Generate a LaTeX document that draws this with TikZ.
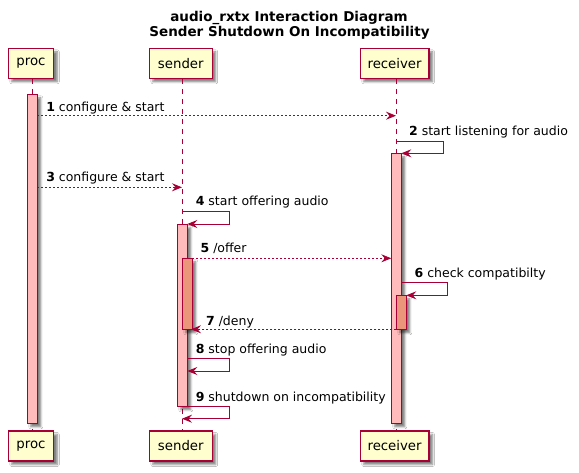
\documentclass[tikz,border=0pt]{standalone}
\usepackage{fontspec}
\setmainfont{DejaVu Sans}
\usetikzlibrary{arrows.meta,shadows.blur}
\definecolor{pline}{HTML}{A80036}
\definecolor{pbox}{HTML}{FEFECE}
\definecolor{pact}{HTML}{FFBBBB}
\definecolor{pact2}{HTML}{E9967A}
\tikzset{
  sh/.style={blur shadow={shadow xshift=3.5pt, shadow yshift=-3.5pt, shadow blur radius=2pt, shadow opacity=50}},
  part/.style={draw=pline, fill=pbox, line width=1.3pt, minimum height=30pt, inner sep=0pt, sh,
    font=\fontsize{13.3}{16}\selectfont, text=black},
  life/.style={draw=pline, line width=0.8pt, dash pattern=on 5pt off 5pt},
  actbar/.style={draw=pline, fill=pact, line width=0.9pt, sh},
  actbarb/.style={draw=pline, fill=pact2, line width=0.9pt, sh},
  tip/.style={-{Stealth[length=10pt,width=8pt,inset=3.5pt]}},
  async/.style={draw=pline, line width=0.8pt, dash pattern=on 2pt off 2pt, tip},
  sync/.style={draw=pline, line width=0.9pt, tip},
  lbl/.style={anchor=base west, inner sep=0pt, font=\fontsize{12.5}{15}\selectfont, text=black},
  ttl/.style={inner sep=0pt, font=\bfseries\fontsize{13.5}{16}\selectfont, text=black}
}
\begin{document}
\begin{tikzpicture}[x=1pt,y=-1pt]
\fill[white] (0,0) rectangle (579,472);
\useasboundingbox (0,0) rectangle (579,472);
% title
\node[ttl] (t1) at (289,18.3) {audio\_rxtx Interaction Diagram};
\node[ttl] (t2) at (289.5,33.3) {Sender Shutdown On Incompatibility};
% participants
\node[part, minimum width=45.5pt] (proct) at (31,63.3) {proc};
\node[part, minimum width=62.8pt] (sendt) at (180.8,63.3) {sender};
\node[part, minimum width=68.7pt] (recvt) at (394.6,63.3) {receiver};
\node[part, minimum width=45.5pt] (procb) at (31,446) {proc};
\node[part, minimum width=62.8pt] (sendb) at (180.8,446) {sender};
\node[part, minimum width=68.7pt] (recvb) at (394.6,446) {receiver};
% lifelines
\coordinate (pl) at (32.3,0);
\coordinate (sl) at (182,0);
\coordinate (rl) at (396,0);
\draw[life] (proct.south -| pl) -- (procb.north -| pl);
\draw[life] (sendt.south -| sl) -- (sendb.north -| sl);
\draw[life] (recvt.south -| rl) -- (recvb.north -| rl);
% activation bars
\path[actbar] (27.3,94.3) rectangle (37.3,423.3);
\path[actbar] (391.3,153.3) rectangle (401.3,423.3);
\path[actbar] (177.3,224) rectangle (187.3,406.3);
\path[actbarb] (182.3,258.3) rectangle (192.3,329.3);
\path[actbarb] (396.3,295.3) rectangle (406.3,329.3);
% message 1
\coordinate (m1a) at (37.3,115.7);
\coordinate (m1b) at (396,115.7);
\draw[async] (m1a) -- (m1b);
\node[lbl] (l1) at (46.1,111) {\textbf{1} configure \& start};
% message 2 (self)
\coordinate (m2a) at (396,141);
\coordinate (m2b) at (443.3,141);
\coordinate (m2c) at (443.3,153.3);
\coordinate (m2d) at (401.3,153.3);
\draw[sync] (m2a) -- (m2b) -- (m2c) -- (m2d);
\node[lbl] (l2) at (408.9,135) {\textbf{2} start listening for audio};
% message 3
\coordinate (m3a) at (37.3,187.3);
\coordinate (m3b) at (182,187.3);
\draw[async] (m3a) -- (m3b);
\node[lbl] (l3) at (46.1,181.6) {\textbf{3} configure \& start};
% message 4 (self)
\coordinate (m4a) at (182,211.3);
\coordinate (m4b) at (229.5,211.3);
\coordinate (m4c) at (229.5,224);
\coordinate (m4d) at (187.3,224);
\draw[sync] (m4a) -- (m4b) -- (m4c) -- (m4d);
\node[lbl] (l4) at (195.6,205) {\textbf{4} start offering audio};
% message 5
\coordinate (m5a) at (192.3,258.3);
\coordinate (m5b) at (391.3,258.3);
\draw[async] (m5a) -- (m5b);
\node[lbl] (l5) at (200.4,252.6) {\textbf{5} /offer};
% message 6 (self)
\coordinate (m6a) at (401.3,282.3);
\coordinate (m6b) at (447.6,282.3);
\coordinate (m6c) at (447.6,295.3);
\coordinate (m6d) at (406.3,295.3);
\draw[sync] (m6a) -- (m6b) -- (m6c) -- (m6d);
\node[lbl] (l6) at (414.4,277.6) {\textbf{6} check compatibilty};
% message 7
\coordinate (m7a) at (396.3,329.3);
\coordinate (m7b) at (191,329.3);
\draw[async] (m7a) -- (m7b);
\node[lbl] (l7) at (205.9,325) {\textbf{7} /deny};
% message 8 (self)
\coordinate (m8a) at (187.3,358.3);
\coordinate (m8b) at (229.5,358.3);
\coordinate (m8c) at (229.5,371);
\coordinate (m8d) at (187.3,371);
\draw[sync] (m8a) -- (m8b) -- (m8c) -- (m8d);
\node[lbl] (l8) at (195.6,353.3) {\textbf{8} stop offering audio};
% message 9 (self)
\coordinate (m9a) at (187.3,406.7);
\coordinate (m9b) at (229.5,406.7);
\coordinate (m9c) at (229.5,418.7);
\coordinate (m9d) at (182,418.7);
\draw[sync] (m9a) -- (m9b) -- (m9c) -- (m9d);
\node[lbl] (l9) at (195.6,401) {\textbf{9} shutdown on incompatibility};
\end{tikzpicture}
\end{document}
